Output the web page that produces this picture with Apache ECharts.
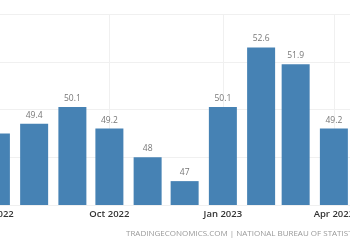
<!DOCTYPE html>
<html><head><meta charset="utf-8">
<script src="https://cdn.jsdelivr.net/npm/echarts@6/dist/echarts.min.js"></script>
<style>html,body{margin:0;padding:0;background:#fff;overflow:hidden;width:350px;height:250px}#c{width:412px;height:250px;margin-left:-30px}</style>
</head><body><div id="c"></div>
<script>
const months = ['2022-07-01','2022-08-01','2022-09-01','2022-10-01','2022-11-01','2022-12-01','2023-01-01','2023-02-01','2023-03-01','2023-04-01','2023-05-01'];
const values = [49.0, 49.4, 50.1, 49.2, 48, 47, 50.1, 52.6, 51.9, 49.2, 48.8];
const tickDates = ['2022-07-01','2022-10-01','2023-01-01','2023-04-01'];
const monthNames = ['Jan','Feb','Mar','Apr','May','Jun','Jul','Aug','Sep','Oct','Nov','Dec'];
function ts(s){const p=s.split('-').map(Number);return new Date(p[0],p[1]-1,p[2]).getTime();}
const chart = echarts.init(document.getElementById('c'), null, {renderer:'canvas'});
chart.setOption({
  animation:false,
  grid:{left:0,right:0,top:14,bottom:45},
  xAxis:{
    type:'value', min:ts('2022-06-10'), max:ts('2023-05-10'),
    axisLine:{show:false},
    axisTick:{show:false, customValues:tickDates.map(ts)},
    axisLabel:{customValues:tickDates.map(ts), color:'#333', fontSize:9.5, fontWeight:600, fontFamily:'Open Sans', margin:4,
      formatter:function(v){const d=new Date(v);return monthNames[d.getMonth()]+' '+d.getFullYear();}},
    splitLine:{show:true, lineStyle:{color:'#f0f0f0', width:1}}
  },
  yAxis:{
    type:'value', min:46, max:54, interval:2,
    axisLabel:{show:false}, axisLine:{show:false}, axisTick:{show:false},
    splitLine:{lineStyle:{color:'#f0f0f0', width:1}}
  },
  series:[{
    type:'bar', barWidth:28, clip:true,
    data: months.map((m,i)=>i===0?{value:[ts(m), values[i]], label:{show:false}}:[ts(m), values[i]]),
    itemStyle:{color:'#4682b4'},
    label:{show:true, position:'top', distance:4, color:'#777', fontSize:8.5, fontFamily:'Open Sans',
      formatter:function(p){return String(p.value[1]);}}
  }],
  graphic:[{type:'text', left:156, top:230, style:{text:'TRADINGECONOMICS.COM | NATIONAL BUREAU OF STATISTICS', fill:'#999', font:'8px "Open Sans"'}}]
});
</script></body></html>
